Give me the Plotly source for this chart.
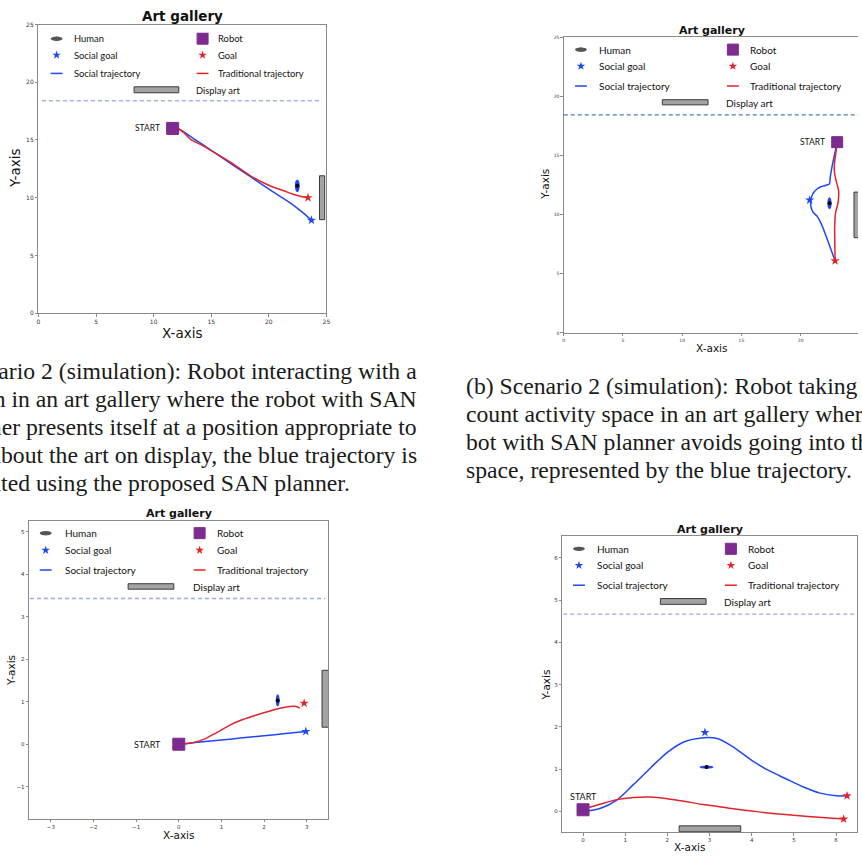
import plotly.graph_objects as go

W, H = 862, 856

# ---------------- data ----------------
# Panel (a): top-left
a_robot = [11.65, 16.0]
a_human = [22.47, 11.03]
a_social_goal = [23.7, 8.05]
a_goal_x = [23.4]
a_goal_y = [10.0]
a_social_x = [11.65, 12.1, 13.5, 15.0, 16.7, 18.5, 20.3, 22.0, 22.9, 23.7]
a_social_y = [16.0, 16.0, 15.1, 14.1, 12.95, 11.75, 10.55, 9.45, 8.75, 8.05]
a_trad_x = [11.65, 12.1, 12.6, 13.2, 14.1, 15.5, 16.7, 18.4, 20.1, 21.3, 22.1, 22.8, 23.4]
a_trad_y = [16.0, 16.0, 15.65, 15.05, 14.6, 13.78, 13.05, 11.9, 11.03, 10.6, 10.3, 10.1, 10.0]
a_wall_x = [0.3, 24.5]
a_wall_y = [18.4, 18.4]
a_art = [24.4, 24.85, 8.1, 11.9]
a_human_size = [0.42, 1.1]

# Panel (b): top-right
b_robot = [23.08, 16.12]
b_human = [22.43, 10.96]
b_social_goal = [20.76, 11.23]
b_goal_x = [22.9]
b_goal_y = [6.1]
b_social_x = [23.08, 22.95, 22.8, 22.62, 22.5, 22.42, 22.2, 21.7, 21.3, 21.0, 20.85, 20.88, 21.05, 21.4, 21.7, 22.1, 22.5, 22.9]
b_social_y = [16.12, 15.5, 14.8, 13.9, 13.2, 12.6, 12.5, 12.35, 12.1, 11.7, 11.2, 10.6, 10.2, 9.85, 9.3, 8.3, 7.2, 6.1]
b_trad_x = [23.08, 22.98, 22.85, 22.85, 23.0, 23.2, 23.15, 22.95, 22.87, 22.88, 22.9]
b_trad_y = [16.12, 15.3, 14.3, 13.6, 12.8, 12.0, 11.0, 10.2, 9.0, 7.5, 6.1]
b_wall_x = [0.0, 25.0]
b_wall_y = [18.43, 18.43]
b_art = [24.5, 25.2, 8.05, 11.9]
b_human_size = [0.36, 1.0]

# Panel (c): bottom-left
c_robot = [0.0, 0.0]
c_human = [2.32, 1.03]
c_social_goal = [2.98, 0.30]
c_goal_x = [2.94]
c_goal_y = [0.965]
c_social_x = [0.0, 0.5, 1.0, 1.5, 2.0, 2.5, 2.98]
c_social_y = [0.0, 0.05, 0.10, 0.15, 0.20, 0.25, 0.30]
c_trad_x = [0.0, 0.3, 0.6, 0.9, 1.2, 1.5, 1.8, 2.1, 2.4, 2.6, 2.75, 2.84]
c_trad_y = [0.0, 0.03, 0.12, 0.28, 0.45, 0.58, 0.68, 0.77, 0.85, 0.89, 0.89, 0.85]
c_wall_x = [-3.49, 3.43]
c_wall_y = [3.43, 3.43]
c_art = [3.36, 3.6, 0.40, 1.74]
c_human_size = [0.09, 0.29]

# Panel (d): bottom-right
d_robot = [0.0, 0.04]
d_human = [2.93, 1.05]
d_social_goal = [2.89, 1.87]
d_goal_x = [6.26, 6.18]
d_goal_y = [0.37, -0.18]
d_social_x = [0.0, 0.4, 0.8, 1.2, 1.6, 2.0, 2.4, 2.8, 3.2, 3.6, 4.0, 4.4, 4.8, 5.2, 5.6, 6.0, 6.26]
d_social_y = [0.0, 0.07, 0.27, 0.64, 1.03, 1.40, 1.65, 1.74, 1.72, 1.50, 1.21, 0.97, 0.78, 0.59, 0.44, 0.37, 0.37]
d_trad_x = [0.0, 0.4, 0.8, 1.2, 1.6, 2.0, 2.4, 2.8, 3.2, 3.6, 4.0, 4.5, 5.0, 5.5, 6.18]
d_trad_y = [0.05, 0.17, 0.28, 0.33, 0.34, 0.30, 0.24, 0.17, 0.12, 0.06, 0.01, -0.05, -0.09, -0.13, -0.18]
d_wall_x = [-0.47, 6.45]
d_wall_y = [4.67, 4.67]
d_art = [2.28, 3.74, -0.48, -0.34]
d_human_size = [0.33, 0.08]

# Legend / label texts
legend_labels = ["Human", "Robot", "Social goal", "Goal", "Social trajectory", "Traditional trajectory", "Display art"]
panel_title = "Art gallery"
x_label = "X-axis"
y_label = "Y-axis"
start_label = "START"

caption_a = [
    "(a) Scenario 2 (simulation): Robot interacting with a",
    "human in an art gallery where the robot with SAN",
    "planner presents itself at a position appropriate to",
    "talk about the art on display, the blue trajectory is",
    "generated using the proposed SAN planner.",
]
caption_b = [
    "(b) Scenario 2 (simulation): Robot taking into ac-",
    "count activity space in an art gallery where the ro-",
    "bot with SAN planner avoids going into the activity",
    "space, represented by the blue trajectory.",
]

# ---------------- style ----------------
BLUE = "#1f48f2"
RED = "#e3232c"
PURPLE = "#7d2b8f"
ART_FILL = "#a3a3a3"
FRAME = "#8a8a8a"
TXT = "#111111"
LEG_FONT = "Lato"
AX_FONT = "DejaVu Sans"
CAP_FONT = "Liberation Serif"


def px(x):
    return x / W


def py(y):
    return 1 - y / H


fig = go.Figure()
shapes = []
annotations = []

panels = [
    dict(xa="x", ya="y", robot=a_robot, human=a_human, hsize=a_human_size, sg=a_social_goal,
         gx=a_goal_x, gy=a_goal_y, sx=a_social_x, sy=a_social_y, tx=a_trad_x, ty=a_trad_y,
         wx=a_wall_x, wy=a_wall_y, wall_col="#9fb4ea", art=a_art,
         start=dict(xanchor="right", xshift=-11, yshift=0, size=8.5), rsize=12),
    dict(xa="x2", ya="y2", robot=b_robot, human=b_human, hsize=b_human_size, sg=b_social_goal,
         gx=b_goal_x, gy=b_goal_y, sx=b_social_x, sy=b_social_y, tx=b_trad_x, ty=b_trad_y,
         wx=b_wall_x, wy=b_wall_y, wall_col="#4f73cf", art=b_art,
         start=dict(xanchor="right", xshift=-10, yshift=0, size=8.5), rsize=11),
    dict(xa="x3", ya="y3", robot=c_robot, human=c_human, hsize=c_human_size, sg=c_social_goal,
         gx=c_goal_x, gy=c_goal_y, sx=c_social_x, sy=c_social_y, tx=c_trad_x, ty=c_trad_y,
         wx=c_wall_x, wy=c_wall_y, wall_col="#93abe8", art=c_art,
         start=dict(xanchor="right", xshift=-16, yshift=0, size=9), rsize=12),
    dict(xa="x4", ya="y4", robot=d_robot, human=d_human, hsize=d_human_size, sg=d_social_goal,
         gx=d_goal_x, gy=d_goal_y, sx=d_social_x, sy=d_social_y, tx=d_trad_x, ty=d_trad_y,
         wx=d_wall_x, wy=d_wall_y, wall_col="#93abe8", art=d_art,
         start=dict(xanchor="center", xshift=0, yshift=13, size=9), rsize=12),
]

for p in panels:
    xa, ya = p["xa"], p["ya"]
    fig.add_trace(go.Scatter(x=p["wx"], y=p["wy"], mode="lines", xaxis=xa, yaxis=ya,
                             line=dict(color=p["wall_col"], width=1.3, dash="4px,3px"), hoverinfo="skip"))
    fig.add_trace(go.Scatter(x=p["sx"], y=p["sy"], mode="lines", xaxis=xa, yaxis=ya,
                             line=dict(color=BLUE, width=1.5, shape="spline", smoothing=0.8), hoverinfo="skip"))
    fig.add_trace(go.Scatter(x=p["tx"], y=p["ty"], mode="lines", xaxis=xa, yaxis=ya,
                             line=dict(color=RED, width=1.5, shape="spline", smoothing=0.8), hoverinfo="skip"))
    fig.add_trace(go.Scatter(x=[p["sg"][0]], y=[p["sg"][1]], mode="markers", xaxis=xa, yaxis=ya,
                             marker=dict(symbol="star", size=7, color=BLUE, line=dict(width=0)), hoverinfo="skip"))
    fig.add_trace(go.Scatter(x=p["gx"], y=p["gy"], mode="markers", xaxis=xa, yaxis=ya,
                             marker=dict(symbol="star", size=7, color=RED, line=dict(width=0)), hoverinfo="skip"))
    fig.add_trace(go.Scatter(x=[p["human"][0]], y=[p["human"][1]], mode="markers", xaxis=xa, yaxis=ya,
                             marker=dict(symbol="circle", size=4, color="black"), hoverinfo="skip"))
    fig.add_trace(go.Scatter(x=[p["robot"][0]], y=[p["robot"][1]], mode="markers", xaxis=xa, yaxis=ya,
                             marker=dict(symbol="square", size=p["rsize"], color=PURPLE,
                                         line=dict(color=PURPLE, width=1)), hoverinfo="skip"))
    hx, hy = p["human"]
    hw, hh = p["hsize"]
    shapes.append(dict(type="circle", xref=xa, yref=ya, x0=hx - hw / 2, x1=hx + hw / 2,
                       y0=hy - hh / 2, y1=hy + hh / 2, fillcolor=BLUE, line=dict(width=0), layer="below"))
    ax0, ax1, ay0, ay1 = p["art"]
    shapes.append(dict(type="rect", xref=xa, yref=ya, x0=ax0, x1=ax1, y0=ay0, y1=ay1,
                       fillcolor=ART_FILL, line=dict(color="#3a3a3a", width=1)))
    st = p["start"]
    annotations.append(dict(x=p["robot"][0], y=p["robot"][1], xref=xa, yref=ya, text=start_label,
                            showarrow=False, xanchor=st["xanchor"], yanchor="middle",
                            xshift=st["xshift"], yshift=st["yshift"],
                            font=dict(family=LEG_FONT, size=st["size"], color=TXT)))

# ---------------- legends (drawn in pixel space on an overlay axis) ----------------
legend_layouts = [
    dict(m1=55, t1=70.5, m2=202, t2=216, rows=[35, 51.5, 70], art=(133, 83.5, 178, 89.5), art_t=(193, 87),
         fs=9.4),
    dict(m1=583, t1=599, m2=736, t2=751, rows=[46, 62.7, 82.7], art=(665, 96.5, 711, 101.7), art_t=(727, 100),
         fs=10),
    dict(m1=44, t1=61, m2=199, t2=214, rows=[533.5, 550.7, 570.7], art=(127, 584.5, 173, 590), art_t=(190, 588),
         fs=10),
    dict(m1=581, t1=597, m2=734, t2=749, rows=[549.3, 566, 586], art=(663, 599.5, 709, 605.3), art_t=(725, 603),
         fs=10),
]
for L in legend_layouts:
    r0, r1, r2 = L["rows"]
    shapes.append(dict(type="circle", xref="paper", yref="paper", x0=px(L["m1"] - 6), x1=px(L["m1"] + 6),
                       y0=py(r0 + 2.2), y1=py(r0 - 2.2), fillcolor="#555555", line=dict(width=0)))
    fig.add_trace(go.Scatter(x=[L["m1"]], y=[r0], mode="markers", xaxis="x5", yaxis="y5",
                             marker=dict(size=4, color="black"), hoverinfo="skip"))
    fig.add_trace(go.Scatter(x=[L["m1"]], y=[r1], mode="markers", xaxis="x5", yaxis="y5",
                             marker=dict(symbol="star", size=6.5, color=BLUE, line=dict(width=0)), hoverinfo="skip"))
    fig.add_trace(go.Scatter(x=[L["m2"]], y=[r0], mode="markers", xaxis="x5", yaxis="y5",
                             marker=dict(symbol="square", size=11, color=PURPLE, line=dict(color=PURPLE, width=1)),
                             hoverinfo="skip"))
    fig.add_trace(go.Scatter(x=[L["m2"]], y=[r1], mode="markers", xaxis="x5", yaxis="y5",
                             marker=dict(symbol="star", size=6.5, color=RED, line=dict(width=0)), hoverinfo="skip"))
    shapes.append(dict(type="line", xref="paper", yref="paper", x0=px(L["m1"] - 6), x1=px(L["m1"] + 6),
                       y0=py(r2), y1=py(r2), line=dict(color=BLUE, width=1.5)))
    shapes.append(dict(type="line", xref="paper", yref="paper", x0=px(L["m2"] - 6), x1=px(L["m2"] + 6),
                       y0=py(r2), y1=py(r2), line=dict(color=RED, width=1.5)))
    a0, b0, a1, b1 = L["art"]
    shapes.append(dict(type="rect", xref="paper", yref="paper", x0=px(a0), x1=px(a1), y0=py(b1), y1=py(b0),
                       fillcolor=ART_FILL, line=dict(color="#3a3a3a", width=1)))
    items = [(L["t1"], r0, legend_labels[0]), (L["t2"], r0, legend_labels[1]),
             (L["t1"], r1, legend_labels[2]), (L["t2"], r1, legend_labels[3]),
             (L["t1"], r2, legend_labels[4]), (L["t2"], r2, legend_labels[5]),
             (L["art_t"][0], L["art_t"][1], legend_labels[6])]
    for tx, ty, lab in items:
        annotations.append(dict(x=px(tx), y=py(ty), xref="paper", yref="paper", text=lab, showarrow=False,
                                xanchor="left", yanchor="middle",
                                font=dict(family=LEG_FONT, size=L["fs"], color=TXT)))

# ---------------- titles and axis labels ----------------
title_pos = [(182, 12.5, 13.5), (715, 27, 11), (178, 514, 11), (713, 530, 11)]
for x, y, s in title_pos:
    annotations.append(dict(x=px(x), y=py(y), xref="paper", yref="paper", text="<b>" + panel_title + "</b>",
                            showarrow=False, xanchor="center", yanchor="middle",
                            font=dict(family=AX_FONT, size=s, color=TXT)))
xlab_pos = [(182, 331.5, 13.5), (715, 347, 10.5), (178, 838, 10.5), (693, 850, 10.5)]
ylab_pos = [(13, 165.5, 13.5), (546.5, 181.5, 10.5), (8.5, 672, 10.5), (548, 687, 10.5)]
for x, y, s in xlab_pos:
    annotations.append(dict(x=px(x), y=py(y), xref="paper", yref="paper", text=x_label, showarrow=False,
                            xanchor="center", yanchor="middle", font=dict(family=AX_FONT, size=s, color=TXT)))
for x, y, s in ylab_pos:
    annotations.append(dict(x=px(x), y=py(y), xref="paper", yref="paper", text=y_label, showarrow=False,
                            textangle=-90, xanchor="center", yanchor="middle",
                            font=dict(family=AX_FONT, size=s, color=TXT)))

# ---------------- captions ----------------
cap_size = 23.7
for i, line in enumerate(caption_a):
    right = 420 if i < len(caption_a) - 1 else 352
    annotations.append(dict(x=px(right), y=py(370 + 28.3 * i), xref="paper", yref="paper", text=line,
                            showarrow=False, xanchor="right", yanchor="middle",
                            font=dict(family=CAP_FONT, size=cap_size, color="#1a1a1a")))
for i, line in enumerate(caption_b):
    annotations.append(dict(x=px(465), y=py(385 + 28.3 * i), xref="paper", yref="paper", text=line,
                            showarrow=False, xanchor="left", yanchor="middle",
                            font=dict(family=CAP_FONT, size=cap_size, color="#1a1a1a")))


# ---------------- axes ----------------
def ax(domain, rng, tickvals, fs, anchor, mirror=True):
    return dict(domain=domain, range=rng, tickvals=tickvals, anchor=anchor, showgrid=False, zeroline=False,
                showline=True, linecolor=FRAME, linewidth=1, mirror=mirror, ticks="outside",
                ticklen=2.5, tickwidth=1, tickcolor=FRAME, fixedrange=True,
                tickfont=dict(family=AX_FONT, size=fs, color="#333333"))


b_xmax = (W - 565.7) / ((804.3 - 565.7) / 20)

fig.update_layout(
    width=W, height=H, margin=dict(l=0, r=0, t=0, b=0),
    paper_bgcolor="white", plot_bgcolor="rgba(0,0,0,0)", showlegend=False,
    xaxis=ax([px(36.7), px(326.7)], [0, 25], [0, 5, 10, 15, 20, 25], 6, "y"),
    yaxis=ax([py(311.7), py(20.7)], [0, 25], [0, 5, 10, 15, 20, 25], 6, "x"),
    xaxis2=ax([px(565.7), 1.0], [0, b_xmax], [0, 5, 10, 15, 20, 25], 4.5, "y2"),
    yaxis2=ax([py(331.7), py(33.3)], [0, 25], [0, 5, 10, 15, 20, 25], 4.5, "x2", mirror=False),
    xaxis3=ax([px(27.3), px(328.3)], [-3.51, 3.5], [-3, -2, -1, 0, 1, 2, 3], 5.5, "y3"),
    yaxis3=ax([py(821.7), py(521)], [-1.76, 5.26], [-1, 0, 1, 2, 3, 4, 5], 5.5, "x3"),
    xaxis4=ax([px(564.3), px(860.7)], [-0.49, 6.49], [0, 1, 2, 3, 4, 5, 6], 5.5, "y4"),
    yaxis4=ax([py(835), py(536.7)], [-0.49, 6.51], [0, 1, 2, 3, 4, 5, 6], 5.5, "x4"),
    xaxis5=dict(domain=[0, 1], range=[0, W], visible=False, fixedrange=True, anchor="y5"),
    yaxis5=dict(domain=[0, 1], range=[H, 0], visible=False, fixedrange=True, anchor="x5"),
    shapes=shapes, annotations=annotations,
)

fig.write_html("out.html", config={"displayModeBar": False},
               post_script="document.body.style.margin='0';document.body.style.overflow='hidden';")
